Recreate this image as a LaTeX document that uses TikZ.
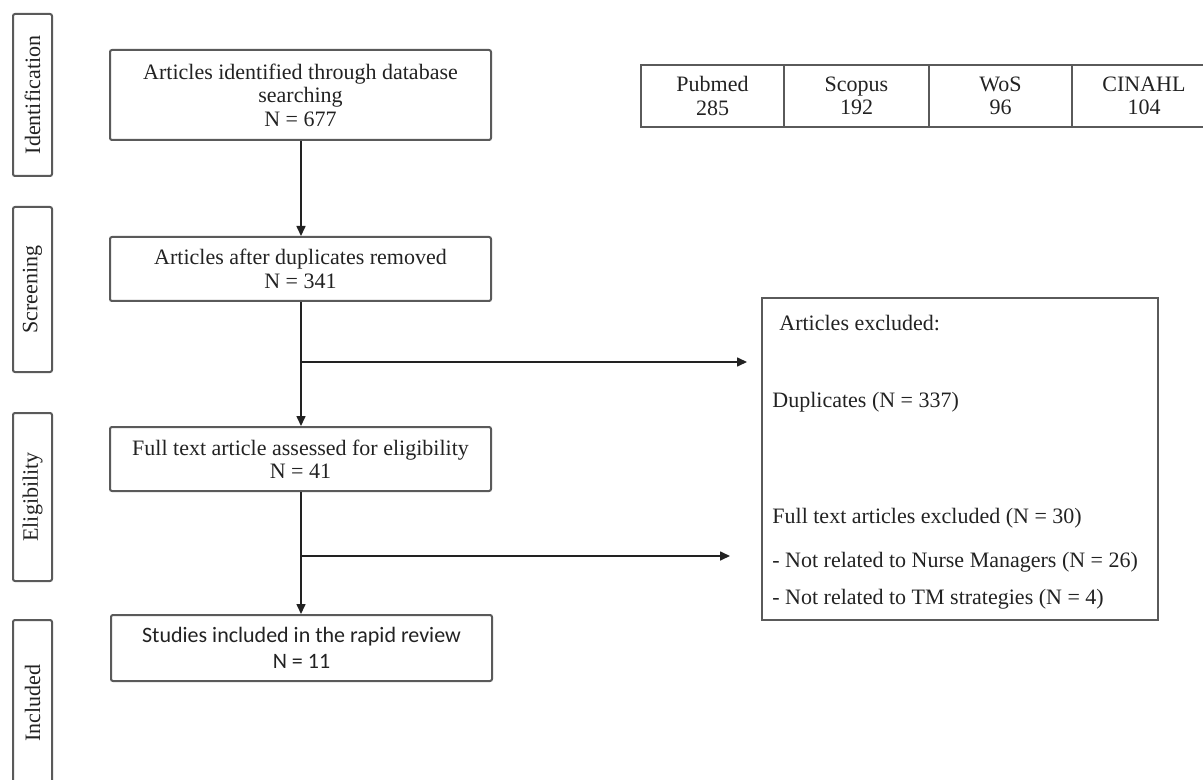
\documentclass[tikz,border=0pt]{standalone}
\usepackage{fontspec}
\setmainfont{Liberation Serif}
\newfontfamily\studyfont{Carlito}
\usetikzlibrary{arrows.meta}
\definecolor{boxgray}{HTML}{5A5A5A}
\definecolor{inkgray}{HTML}{222222}
\tikzset{
  stagebox/.style={draw=boxgray, line width=1pt, rounded corners=1pt, rotate=90,
    minimum height=19.5pt, inner sep=0pt, text=inkgray},
  flowbox/.style={draw=boxgray, line width=1pt, rounded corners=1pt, align=center,
    minimum width=190.5pt, inner sep=0pt, text=inkgray},
  dbcell/.style={draw=boxgray, line width=1pt, align=center, minimum height=31pt,
    inner sep=0pt, text=inkgray},
  extext/.style={anchor=west, inner sep=0pt, text=inkgray},
  flowline/.style={draw=inkgray, line width=0.8pt, -{Triangle[length=5pt,width=4.5pt]}}
}
\begin{document}
\begin{tikzpicture}[x=0.5pt, y=-0.5pt, font=\fontsize{11pt}{11.7pt}\selectfont]
  \useasboundingbox (0,0) rectangle (1203,780);

  % stages
  \node[stagebox, minimum width=81pt] (ident) at (32.5,95) {Identification};
  \node[stagebox, minimum width=82.5pt] (screen) at (32.5,289.5) {Screening};
  \node[stagebox, minimum width=84pt] (elig) at (32.5,497) {Eligibility};
  \node[stagebox, minimum width=83pt] (incl) at (32.5,703) {Included};

  % main flow
  \node[flowbox, minimum height=45pt] (found) at (300.5,95)
    {Articles\ identified\ through database\\searching\\N = 677};
  \node[flowbox, minimum height=32pt] (dedup) at (300.5,269)
    {Articles\ after duplicates removed\\N = 341};
  \node[flowbox, minimum height=32pt] (full) at (300.5,459)
    {Full text article assessed for eligibility\\N = 41};
  \node[flowbox, minimum height=33pt, font=\studyfont\fontsize{11pt}{13pt}\selectfont] (study) at (301.5,648)
    {Studies included in the rapid review\\N = 11};

  % databases
  \node[dbcell, minimum width=71.5pt] (pubmed) at (712.5,96) {Pubmed\\285};
  \node[dbcell, minimum width=72.5pt] (scopus) at (856.5,96) {Scopus\\192};
  \node[dbcell, minimum width=71.5pt] (wos) at (1000.5,96) {WoS\\96};
  \node[dbcell, minimum width=72pt] (cinahl) at (1144,96) {CINAHL\\104};

  % excluded
  \node[draw=boxgray, line width=1pt, minimum width=198pt, minimum height=161pt] (excl) at (960,459) {};
  \node[extext] (exHead) at (779,323) {Articles\ excluded:};
  \node[extext] (exDup) at (772,402) {Duplicates\ (N = 337)};
  \node[extext] (exFull) at (772,518) {Full\ text articles\ excluded (N = 30)};
  \node[extext] (exNurse) at (772,562) {- Not related\ to Nurse Managers\ (N = 26)};
  \node[extext] (exTM) at (772,599) {- Not related\ to TM strategies\ (N = 4)};

  \coordinate (br1) at (301,362);
  \coordinate (e1) at (747,362);
  \coordinate (br2) at (301,556);
  \coordinate (e2) at (730,556);

  \draw[flowline] (found.south -| br1) -- (dedup.north -| br1);
  \draw[flowline] (dedup.south -| br1) -- (full.north -| br1);
  \draw[flowline] (full.south -| br1) -- (study.north -| br1);
  \draw[flowline] (br1) -- (e1);
  \draw[flowline] (br2) -- (e2);
\end{tikzpicture}
\end{document}
